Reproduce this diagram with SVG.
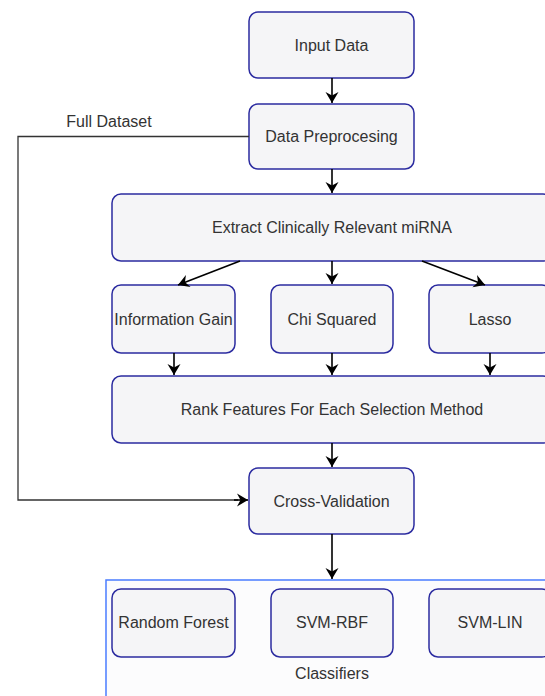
<svg xmlns="http://www.w3.org/2000/svg" width="545" height="696" viewBox="0 0 545 696">
  <defs>
    <marker id="arrow" viewBox="0 0 12 14" refX="11.5" refY="7" markerWidth="12" markerHeight="14" markerUnits="userSpaceOnUse" orient="auto">
      <path d="M0.5,0.5 L11.5,7 L0.5,13.5 L4,7 Z" fill="#000"/>
    </marker>
  </defs>
  <style>
    .box { fill: #f5f5f7; stroke: #2b2ba0; stroke-width: 1.5; }
    .group { fill: #fcfcfd; stroke: #4a7cff; stroke-width: 1.5; }
    .label { font-family: "Liberation Sans", Arial, sans-serif; font-size: 16px; fill: #333; text-anchor: middle; }
    .edge { fill: none; stroke: #000; stroke-width: 1.6; marker-end: url(#arrow); }
    .plain { fill: none; stroke: #333; stroke-width: 1.3; }
  </style>
  <rect width="545" height="696" fill="#fff"/>

  <g id="classifiers">
    <rect class="group" x="106" y="580" width="460" height="130"/>
    <text class="label" x="332" y="678.5">Classifiers</text>
  </g>

  <g id="input-data">
    <rect class="box" x="249" y="12" width="165" height="66" rx="9"/>
    <text class="label" x="331.5" y="50.5">Input Data</text>
  </g>
  <g id="data-preprocessing">
    <rect class="box" x="249" y="104" width="165" height="65" rx="9"/>
    <text class="label" x="331.5" y="142">Data Preprocesing</text>
  </g>
  <g id="extract">
    <rect class="box" x="112" y="194" width="440" height="67" rx="9"/>
    <text class="label" x="332" y="233">Extract Clinically Relevant miRNA</text>
  </g>
  <g id="information-gain">
    <rect class="box" x="112" y="285" width="123" height="68" rx="9"/>
    <text class="label" x="173.5" y="324.5">Information Gain</text>
  </g>
  <g id="chi-squared">
    <rect class="box" x="271" y="285" width="122" height="68" rx="9"/>
    <text class="label" x="332" y="324.5">Chi Squared</text>
  </g>
  <g id="lasso">
    <rect class="box" x="429" y="285" width="122" height="68" rx="9"/>
    <text class="label" x="490" y="324.5">Lasso</text>
  </g>
  <g id="rank-features">
    <rect class="box" x="112" y="376" width="440" height="67" rx="9"/>
    <text class="label" x="332" y="415">Rank Features For Each Selection Method</text>
  </g>
  <g id="cross-validation">
    <rect class="box" x="249" y="468" width="165" height="66" rx="9"/>
    <text class="label" x="331.5" y="506.5">Cross-Validation</text>
  </g>
  <g id="random-forest">
    <rect class="box" x="112" y="589" width="123" height="68" rx="9"/>
    <text class="label" x="173.5" y="628">Random Forest</text>
  </g>
  <g id="svm-rbf">
    <rect class="box" x="271" y="589" width="122" height="68" rx="9"/>
    <text class="label" x="332" y="628">SVM-RBF</text>
  </g>
  <g id="svm-lin">
    <rect class="box" x="429" y="589" width="122" height="68" rx="9"/>
    <text class="label" x="490" y="628">SVM-LIN</text>
  </g>

  <g id="connectors">
    <line class="edge" x1="332" y1="78" x2="332" y2="103"/>
    <line class="edge" x1="332" y1="169" x2="332" y2="193"/>
    <line class="edge" x1="240" y1="261" x2="178" y2="285"/>
    <line class="edge" x1="332" y1="261" x2="332" y2="284"/>
    <line class="edge" x1="422" y1="261" x2="485" y2="285"/>
    <line class="edge" x1="174" y1="353" x2="174" y2="375"/>
    <line class="edge" x1="332" y1="353" x2="332" y2="375"/>
    <line class="edge" x1="490" y1="353" x2="490" y2="375"/>
    <line class="edge" x1="332" y1="443" x2="332" y2="467"/>
    <line class="edge" x1="332" y1="534" x2="332" y2="579"/>
    <polyline class="plain" points="249,136.5 18,136.5 18,500 238,500"/>
    <line class="edge" x1="234" y1="500" x2="248" y2="500"/>
    <text class="label" x="109" y="127">Full Dataset</text>
  </g>
</svg>
